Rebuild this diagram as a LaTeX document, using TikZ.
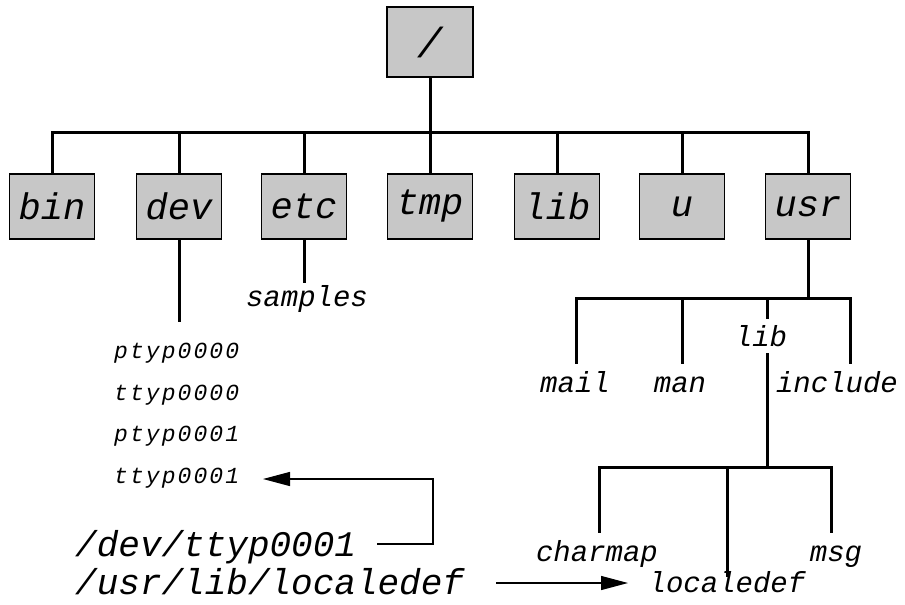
\documentclass[tikz,border=0pt]{standalone}
\usepackage{fontspec}
\usetikzlibrary{arrows.meta}
\newfontfamily\cour{Liberation Mono}
\newfontfamily\courspaced{Liberation Mono}[LetterSpace=9]
\tikzset{
  dirbox/.style={draw, line width=1.5pt, fill=black!22, minimum width=85pt,
    minimum height=65pt, inner sep=0pt,
    font=\cour\itshape\fontsize{37}{37}\selectfont},
  branch/.style={line width=3pt},
  leaf/.style={inner sep=0pt, anchor=base, text height=22pt, text depth=7pt,
    font=\cour\itshape\fontsize{29}{29}\selectfont},
  devleaf/.style={inner sep=0pt, anchor=base west,
    font=\courspaced\itshape\fontsize{23}{23}\selectfont},
  pathname/.style={inner sep=0pt, anchor=base west,
    font=\cour\itshape\fontsize{36}{36}\selectfont},
  link/.style={line width=1.3pt},
  linkarrow/.style={link, -{Triangle[length=27pt,width=14pt]}}
}
\begin{document}
\begin{tikzpicture}[x=1pt,y=-1pt]
\useasboundingbox (0,0) rectangle (905,605);

% root directory
\node[dirbox, minimum width=86pt, minimum height=70pt,
  font=\cour\itshape\fontsize{42}{42}\selectfont] (root) at (430,42) {/};
\coordinate (topbar) at (430,132);

% first level
\node[dirbox] (bin) at (52,206.5) {bin};
\node[dirbox] (dev) at (179,206.5) {dev};
\node[dirbox] (etc) at (304,206.5) {etc};
\node[dirbox] (tmp) at (430,206.5) {tmp};
\node[dirbox] (lib) at (557,206.5) {lib};
\node[dirbox] (u) at (682,206.5) {u};
\node[dirbox] (usr) at (808,206.5) {usr};

\draw[branch] (root.south) -- (topbar);
\draw[branch] (bin.north) -- (bin.north |- topbar) -- (usr.north |- topbar) -- (usr.north);
\foreach \d in {dev,etc,tmp,lib,u}
  \draw[branch] (\d.north) -- (\d.north |- topbar);

% /dev entries
\coordinate (devend) at (179,322);
\draw[branch] (dev.south) -- (devend);
\node[devleaf] (ptyp0) at (114,358) {ptyp0000};
\node[devleaf] (ttyp0) at (114,400) {ttyp0000};
\node[devleaf] (ptyp1) at (114,441) {ptyp0001};
\node[devleaf] (ttyp1) at (114,483) {ttyp0001};

% /etc entries
\node[leaf, text height=23pt] (samples) at (307,306) {samples};
\draw[branch] (etc.south) -- (samples.north -| etc.south);

% /usr entries
\coordinate (ub) at (808,298);
\node[leaf, text height=28pt] (mail) at (575,392) {mail};
\node[leaf, text height=28pt] (man) at (680,392) {man};
\node[leaf, text height=27pt, text depth=7pt] (ulib) at (761,346) {lib};
\node[leaf, text height=28pt] (include) at (837,392) {include};
\coordinate (b-mail) at (576,298);
\coordinate (b-man) at (682,298);
\coordinate (b-lib) at (767,298);
\coordinate (b-inc) at (850,298);
\draw[branch] (usr.south) -- (ub);
\draw[branch] (b-mail |- mail.north) -- (b-mail) -- (b-inc) -- (b-inc |- include.north);
\draw[branch] (b-man) -- (b-man |- man.north);
\draw[branch] (b-lib) -- (b-lib |- ulib.north);

% /usr/lib entries
\coordinate (lb) at (767,467);
\node[leaf, text height=28pt] (charmap) at (597,561) {charmap};
\node[leaf, text height=15pt] (localedef) at (727,592) {localedef};
\node[leaf, text height=28pt] (msg) at (836,561) {msg};
\coordinate (b-char) at (599,467);
\coordinate (b-loc) at (727,467);
\coordinate (b-msg) at (831,467);
\draw[branch] (b-lib |- ulib.south) -- (lb);
\draw[branch] (b-char |- charmap.north) -- (b-char) -- (b-msg) -- (b-msg |- msg.north);
\draw[branch] (b-loc) -- (localedef.north);

% full path names pointing at their files
\node[pathname] (devpath) at (75,556) {/dev/ttyp0001};
\node[pathname] (usrpath) at (75,594) {/usr/lib/localedef};
\coordinate (turn) at (433,544);
\coordinate (tip1) at (263,479);
\draw[linkarrow] ([xshift=21pt]devpath.east |- turn) -- (turn) |- (tip1);
\coordinate (tip2) at (628,583);
\draw[linkarrow] ([xshift=32pt]usrpath.east |- tip2) -- (tip2);
\end{tikzpicture}
\end{document}
